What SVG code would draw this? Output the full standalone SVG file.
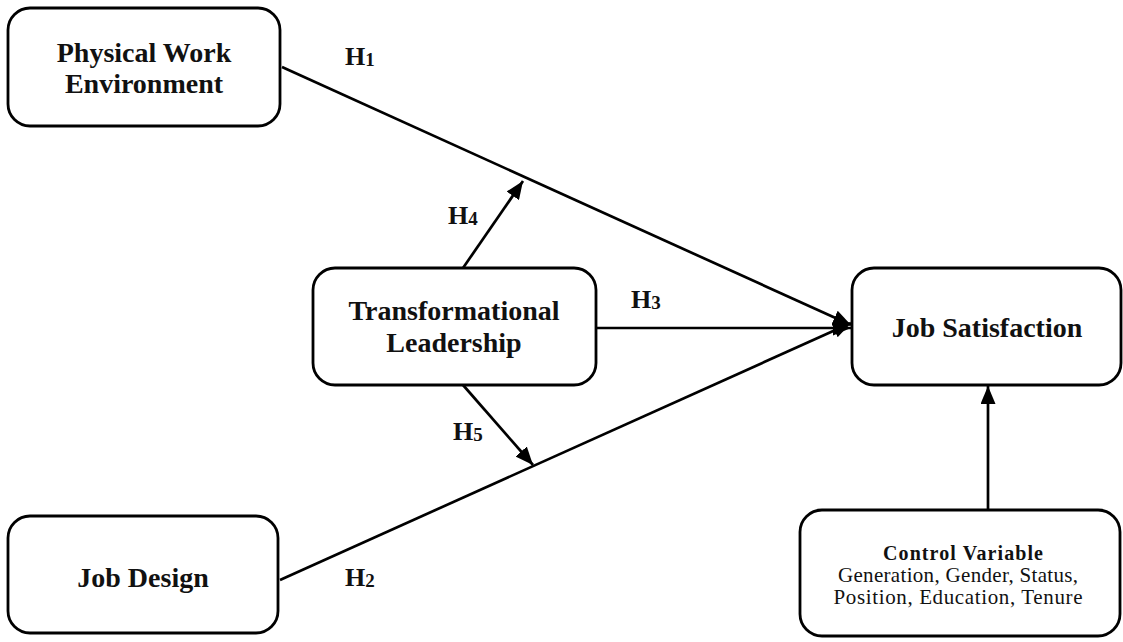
<svg xmlns="http://www.w3.org/2000/svg" width="1123" height="642" viewBox="0 0 1123 642">
<style>
.box{fill:#fff;stroke:#000;stroke-width:2.8}
.lbl{font-family:"Liberation Serif","Times New Roman",serif;font-weight:bold;font-size:28px;fill:#111;text-anchor:middle}
.h{font-family:"Liberation Serif","Times New Roman",serif;font-weight:bold;font-size:26px;fill:#111}
.sub{font-size:19px}
.cb{font-family:"Liberation Serif","Times New Roman",serif;font-weight:bold;font-size:20px;fill:#111;text-anchor:middle}
.cr{font-family:"Liberation Serif","Times New Roman",serif;font-size:21px;fill:#111;text-anchor:middle}
.con{stroke:#000;stroke-width:2.7;fill:none}
</style>
<defs>
<marker id="arr" markerUnits="userSpaceOnUse" markerWidth="19" markerHeight="15" refX="18" refY="7.5" orient="auto">
<path d="M0,0 L18,7.5 L0,15 z" fill="#000"/>
</marker>
</defs>
<rect width="1123" height="642" fill="#fff"/>
<g id="connectors">
<line class="con" x1="282" y1="67" x2="851" y2="325" marker-end="url(#arr)"/>
<line class="con" x1="280" y1="580" x2="851" y2="323" marker-end="url(#arr)"/>
<line class="con" x1="596" y1="328" x2="851" y2="328" marker-end="url(#arr)"/>
<line class="con" x1="463" y1="268" x2="523" y2="181" marker-end="url(#arr)"/>
<line class="con" x1="463" y1="385" x2="533" y2="465" marker-end="url(#arr)"/>
<line class="con" x1="988" y1="510" x2="988" y2="386" marker-end="url(#arr)"/>
</g>
<g id="labels">
<text class="h" x="345" y="65">H<tspan class="sub" dy="1">1</tspan></text>
<text class="h" x="345" y="586">H<tspan class="sub" dy="1">2</tspan></text>
<text class="h" x="631" y="308">H<tspan class="sub" dy="1">3</tspan></text>
<text class="h" x="448" y="224">H<tspan class="sub" dy="1">4</tspan></text>
<text class="h" x="453" y="440">H<tspan class="sub" dy="1">5</tspan></text>
</g>
<g id="physical-work-environment">
<rect class="box" x="8" y="8" width="272" height="118" rx="22"/>
<text class="lbl" x="144" y="62">Physical Work</text>
<text class="lbl" x="144" y="93">Environment</text>
</g>
<g id="transformational-leadership">
<rect class="box" x="313" y="268" width="283" height="117" rx="22"/>
<text class="lbl" x="454" y="320">Transformational</text>
<text class="lbl" x="454" y="352">Leadership</text>
</g>
<g id="job-satisfaction">
<rect class="box" x="852" y="268" width="269" height="117" rx="22"/>
<text class="lbl" x="987" y="337">Job Satisfaction</text>
</g>
<g id="job-design">
<rect class="box" x="8" y="516" width="270" height="117" rx="22"/>
<text class="lbl" x="143" y="587">Job Design</text>
</g>
<g id="control-variable">
<rect class="box" x="800" y="510" width="320" height="126" rx="22"/>
<text class="cb" x="963" y="560" textLength="160" lengthAdjust="spacing">Control Variable</text>
<text class="cr" x="958" y="582" textLength="240" lengthAdjust="spacing">Generation, Gender, Status,</text>
<text class="cr" x="958" y="604" textLength="249" lengthAdjust="spacing">Position, Education, Tenure</text>
</g>
</svg>
